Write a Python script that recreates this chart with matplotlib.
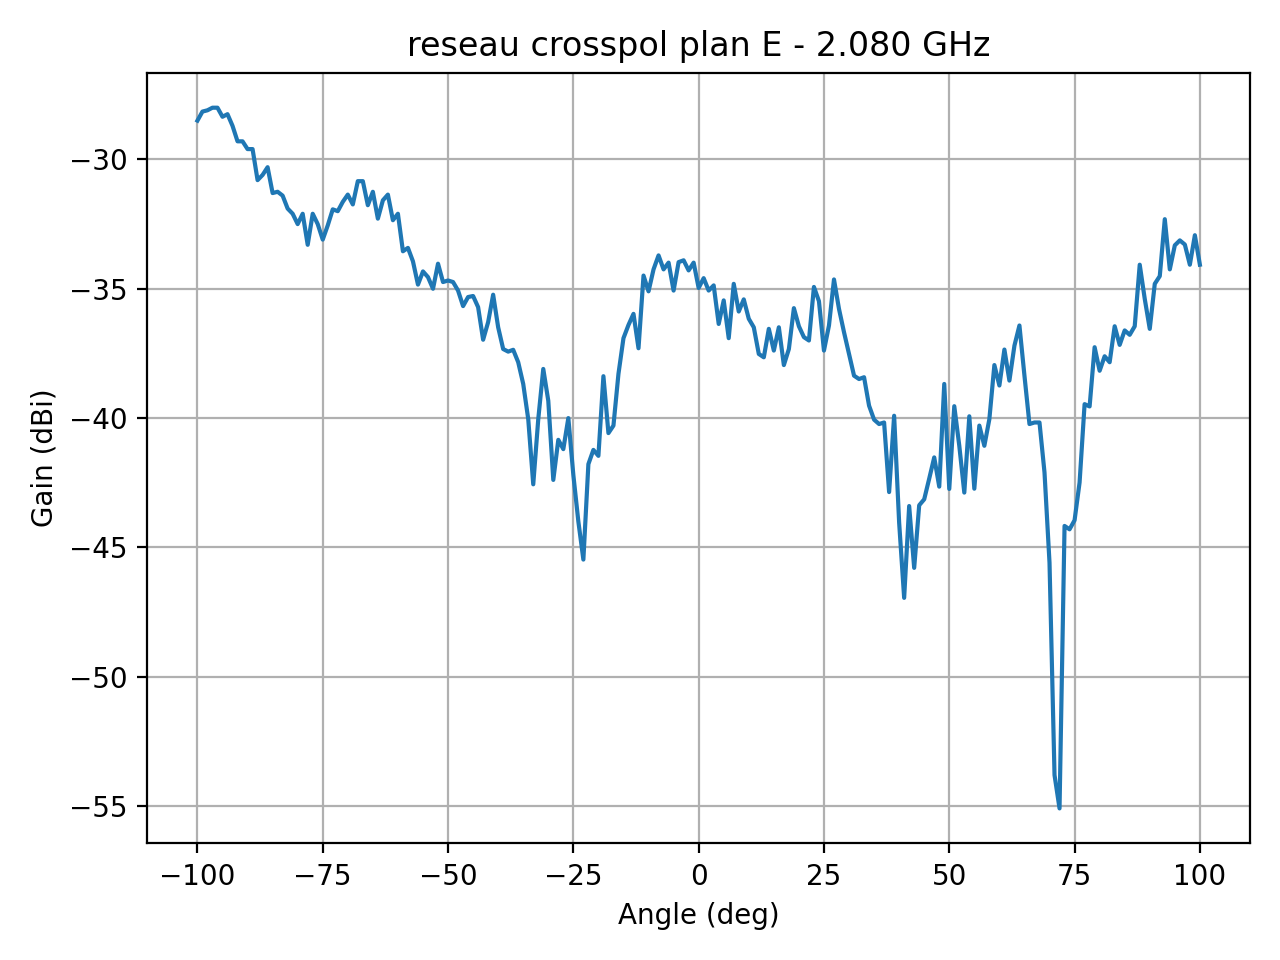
import numpy as np
import matplotlib
matplotlib.use("Agg")
import matplotlib.pyplot as plt

angles = np.arange(-100, 101, 1)

gain = [
    # -100 .. -51
    -28.5, -28.15, -28.1, -28.0, -28.0, -28.35, -28.25, -28.7, -29.3, -29.3,
    -29.6, -29.6, -30.8, -30.6, -30.3, -31.3, -31.25, -31.4, -31.9, -32.1,
    -32.5, -32.1, -33.3, -32.1, -32.5, -33.1, -32.55, -31.93, -32.0, -31.64,
    -31.36, -31.74, -30.84, -30.84, -31.77, -31.25, -32.29, -31.58, -31.36, -32.35,
    -32.1, -33.55, -33.42, -33.94, -34.84, -34.33, -34.55, -35.0, -34.03, -34.74,
    # -50 .. -1
    -34.68, -34.74, -35.07, -35.67, -35.32, -35.28, -35.71, -36.97, -36.29, -35.23,
    -36.49, -37.33, -37.43, -37.36, -37.84, -38.68, -40.04, -42.56, -40.04, -38.1,
    -39.33, -42.39, -40.84, -41.2, -40.0, -42.2, -44.0, -45.47, -41.78, -41.23,
    -41.46, -38.38, -40.58, -40.29, -38.29, -36.91, -36.4, -35.97, -37.3, -34.49,
    -35.1, -34.25, -33.71, -34.25, -33.99, -35.07, -33.97, -33.9, -34.29, -33.99,
    # 0 .. 49
    -34.97, -34.59, -35.07, -34.87, -36.36, -35.45, -36.91, -34.81, -35.88, -35.41,
    -36.16, -36.49, -37.52, -37.65, -36.55, -37.39, -36.49, -37.95, -37.33, -35.75,
    -36.45, -36.87, -37.0, -34.93, -35.48, -37.39, -36.42, -34.64, -35.78, -36.68,
    -37.52, -38.36, -38.49, -38.42, -39.52, -40.06, -40.23, -40.17, -42.86, -39.91,
    -44.04, -46.95, -43.4, -45.79, -43.37, -43.14, -42.34, -41.52, -42.65, -38.68,
    # 50 .. 100
    -42.74, -39.54, -41.07, -42.88, -39.93, -42.73, -40.29, -41.07, -40.04, -37.95,
    -38.74, -37.35, -38.55, -37.2, -36.42, -38.36, -40.23, -40.17, -40.17, -42.1,
    -45.59, -53.8, -55.09, -44.17, -44.3, -43.95, -42.49, -39.46, -39.55, -37.26,
    -38.17, -37.61, -37.84, -36.45, -37.17, -36.61, -36.78, -36.45, -34.07, -35.39,
    -36.55, -34.81, -34.51, -32.31, -34.25, -33.32, -33.13, -33.29, -34.07, -32.93,
    -34.07,
]

fig, ax = plt.subplots(figsize=(6.4, 4.8), dpi=200)
ax.plot(angles, gain)
ax.set_title("reseau crosspol plan E - 2.080 GHz")
ax.set_xlabel("Angle (deg)")
ax.set_ylabel("Gain (dBi)")
ax.grid(True)
fig.tight_layout()
fig.savefig("out.png", dpi=200)
